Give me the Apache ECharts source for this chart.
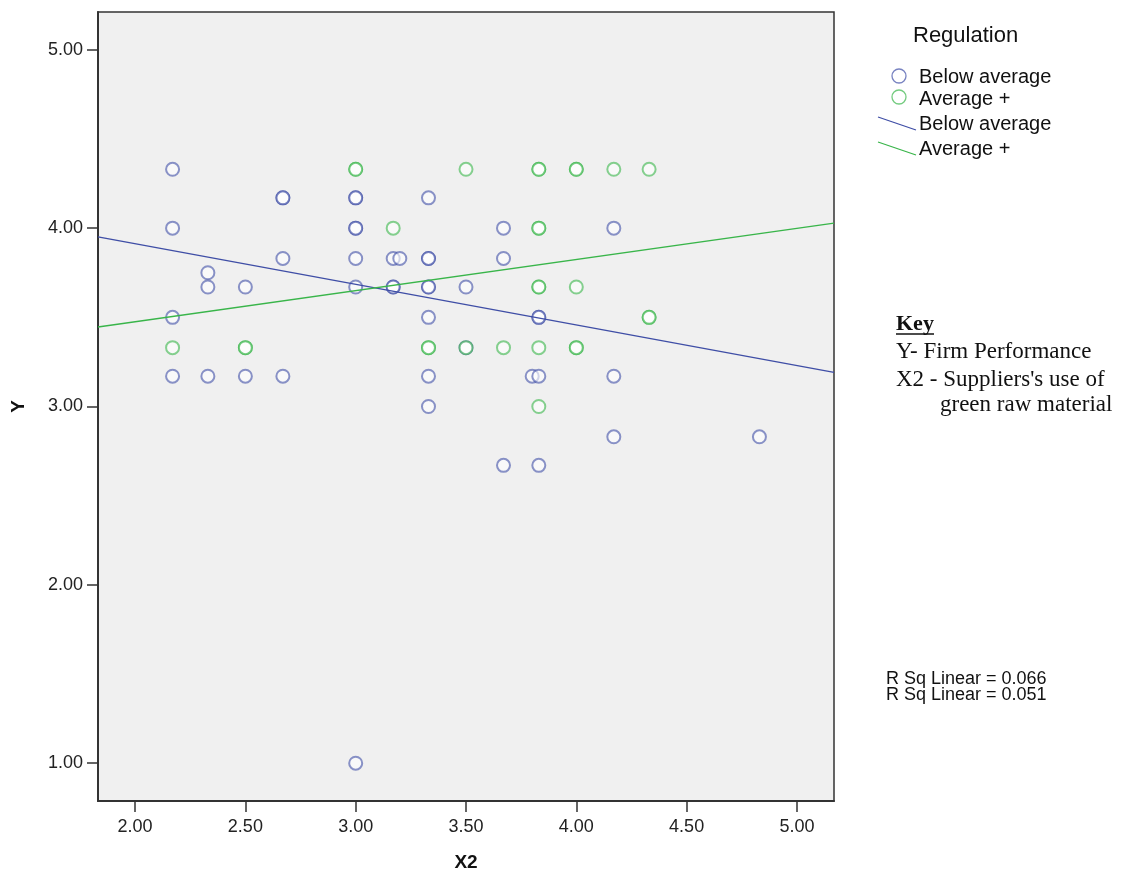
<!DOCTYPE html>
<html>
<head>
<meta charset="utf-8">
<title>Y by X2, Regulation</title>
<script src="https://cdn.jsdelivr.net/npm/echarts@6/dist/echarts.min.js"></script>
<style>
  html, body { margin: 0; padding: 0; background: #fff; }
  #chart { width: 1130px; height: 883px; }
</style>
</head>
<body>
<div id="chart"></div>
<script>
// points (x = X2, y = Y); repeated pairs are overplotted points
const belowAverage = [
  [2.17, 4.33], [2.17, 4.00], [2.17, 3.50], [2.17, 3.17],
  [2.33, 3.75], [2.33, 3.67], [2.33, 3.17],
  [2.50, 3.67], [2.50, 3.17],
  [2.67, 4.17], [2.67, 4.17], [2.67, 3.83], [2.67, 3.17],
  [3.00, 4.17], [3.00, 4.17], [3.00, 4.00], [3.00, 4.00], [3.00, 3.83], [3.00, 3.67], [3.00, 1.00],
  [3.17, 3.83], [3.20, 3.83], [3.17, 3.67], [3.17, 3.67],
  [3.33, 4.17], [3.33, 3.83], [3.33, 3.83], [3.33, 3.67], [3.33, 3.67], [3.33, 3.50], [3.33, 3.17], [3.33, 3.00],
  [3.50, 3.67], [3.50, 3.33],
  [3.67, 4.00], [3.67, 3.83], [3.67, 2.67],
  [3.80, 3.17], [3.83, 3.17], [3.83, 3.50], [3.83, 3.50], [3.83, 2.67],
  [4.17, 4.00], [4.17, 3.17], [4.17, 2.83],
  [4.83, 2.83]
]
const averagePlus = [
  [2.17, 3.33], [2.50, 3.33], [2.50, 3.33],
  [3.00, 4.33], [3.00, 4.33],
  [3.17, 4.00],
  [3.33, 3.33], [3.33, 3.33],
  [3.50, 4.33], [3.50, 3.33],
  [3.67, 3.33],
  [3.83, 4.33], [3.83, 4.33], [3.83, 4.00], [3.83, 4.00], [3.83, 3.67], [3.83, 3.67], [3.83, 3.33], [3.83, 3.00],
  [4.00, 4.33], [4.00, 4.33], [4.00, 3.67], [4.00, 3.33], [4.00, 3.33],
  [4.17, 4.33], [4.33, 4.33], [4.33, 3.50], [4.33, 3.50]
]

// fit lines, ends at the axis edges
const fitBelow = [[1.832, 3.951], [5.168, 3.191]]
const fitPlus = [[1.832, 3.446], [5.168, 4.028]]

const xTicks = [2.0, 2.5, 3.0, 3.5, 4.0, 4.5, 5.0]
const yTicks = [1.0, 2.0, 3.0, 4.0, 5.0]
const groups = ['Below average', 'Average +']
const rsq = ['R Sq Linear = 0.066', 'R Sq Linear = 0.051']

const BLUE = '#3f4ea6'
const GREEN = '#39b54a'
const SANS = 'Arial, "Liberation Sans", sans-serif'
const SERIF = '"Liberation Serif", "Times New Roman", serif'

const chart = echarts.init(document.getElementById('chart'))

// small helper for the side texts, y is the middle of the line
const label = (x, y, text, extra) => ({
  type: 'text', x: x, y: y,
  style: Object.assign({ text: text, fontFamily: SANS, fontSize: 20, fill: '#111', align: 'left', verticalAlign: 'middle' }, extra || {})
})

chart.setOption({
  animation: false,
  backgroundColor: '#fff',
  grid: {
    left: 98, top: 12, right: 296, bottom: 82,
    outerBoundsMode: 'none',
    containLabel: false,
    show: true,
    backgroundColor: '#f0f0f0',
    borderColor: '#333',
    borderWidth: 1.5
  },
  xAxis: {
    type: 'value',
    min: 1.832, max: 5.168,
    name: 'X2',
    nameLocation: 'middle',
    nameGap: 52,
    nameTextStyle: { fontFamily: SANS, fontWeight: 'bold', fontSize: 19, color: '#111' },
    axisLine: { show: true, onZero: false, lineStyle: { color: '#333', width: 2 } },
    axisTick: { show: true, length: 11, customValues: xTicks, lineStyle: { color: '#333', width: 1.5 } },
    axisLabel: {
      customValues: xTicks, margin: 17,
      formatter: v => v.toFixed(2),
      fontFamily: SANS, fontSize: 18, color: '#222'
    },
    splitLine: { show: false }
  },
  yAxis: {
    type: 'value',
    min: 0.788, max: 5.212,
    name: 'Y',
    nameLocation: 'middle',
    nameGap: 70,
    nameRotate: 90,
    nameTextStyle: { fontFamily: SANS, fontWeight: 'bold', fontSize: 19, color: '#111' },
    axisLine: { show: true, onZero: false, lineStyle: { color: '#333', width: 2 } },
    axisTick: { show: true, length: 11, customValues: yTicks, lineStyle: { color: '#333', width: 1.5 } },
    axisLabel: {
      customValues: yTicks, margin: 15,
      formatter: v => v.toFixed(2),
      fontFamily: SANS, fontSize: 18, color: '#222'
    },
    splitLine: { show: false }
  },
  series: [
    {
      name: groups[0], type: 'scatter', data: belowAverage,
      symbol: 'emptyCircle', symbolSize: 13,
      itemStyle: { color: BLUE, borderColor: BLUE, borderWidth: 1.4, opacity: 0.6 },
      z: 3
    },
    {
      name: groups[1], type: 'scatter', data: averagePlus,
      symbol: 'emptyCircle', symbolSize: 13,
      itemStyle: { color: GREEN, borderColor: GREEN, borderWidth: 1.4, opacity: 0.6 },
      z: 3
    },
    {
      name: groups[0] + ' fit', type: 'line', data: fitBelow,
      symbol: 'none', lineStyle: { color: BLUE, width: 1.4 }, z: 4
    },
    {
      name: groups[1] + ' fit', type: 'line', data: fitPlus,
      symbol: 'none', lineStyle: { color: GREEN, width: 1.4 }, z: 4
    }
  ],
  graphic: [
    label(913, 36, 'Regulation', { fontSize: 22 }),
    { type: 'circle', shape: { cx: 899, cy: 76, r: 7 }, style: { fill: 'none', stroke: BLUE, lineWidth: 1.3, opacity: 0.7 } },
    label(919, 77, groups[0]),
    { type: 'circle', shape: { cx: 899, cy: 97, r: 7 }, style: { fill: 'none', stroke: GREEN, lineWidth: 1.3, opacity: 0.7 } },
    label(919, 99, groups[1]),
    { type: 'line', shape: { x1: 878, y1: 117, x2: 916, y2: 130 }, style: { stroke: BLUE, lineWidth: 1.3 } },
    label(919, 124, groups[0]),
    { type: 'line', shape: { x1: 878, y1: 142, x2: 916, y2: 155 }, style: { stroke: GREEN, lineWidth: 1.3 } },
    label(919, 149, groups[1]),

    label(896, 324, 'Key', { fontFamily: SERIF, fontSize: 22, fontWeight: 'bold' }),
    { type: 'line', shape: { x1: 896, y1: 334, x2: 934, y2: 334 }, style: { stroke: '#111', lineWidth: 1.5 } },
    label(896, 352, 'Y- Firm Performance', { fontFamily: SERIF, fontSize: 23 }),
    label(896, 380, "X2 - Suppliers's use of", { fontFamily: SERIF, fontSize: 23 }),
    label(940, 405, 'green raw material', { fontFamily: SERIF, fontSize: 23 }),

    label(886, 679, rsq[0], { fontSize: 18 }),
    label(886, 695, rsq[1], { fontSize: 18 })
  ]
})
</script>
</body>
</html>
